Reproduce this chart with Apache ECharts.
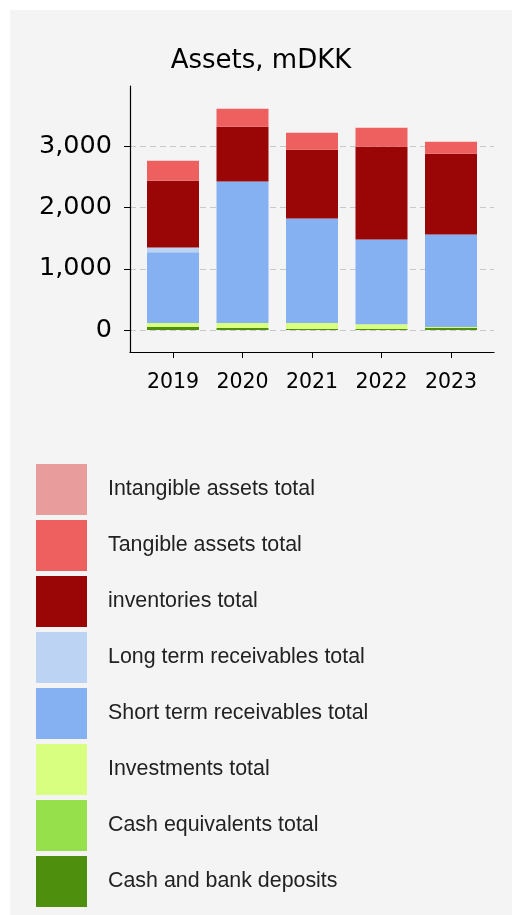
<!DOCTYPE html>
<html>
<head>
<meta charset="utf-8">
<script src="https://cdn.jsdelivr.net/npm/echarts@6/dist/echarts.min.js"></script>
<style>
    html, body { margin: 0; padding: 0; background: #ffffff; }
    #myChart { position: absolute; left: 10px; top: 10px; width: 502px; height: 905px; background: #f4f4f4; }
</style>
</head>
<body>
<div id="myChart"></div>
<script>
// 年份
var years = ['2019', '2020', '2021', '2022', '2023'];
// 各项资产 (mDKK)，从下往上堆叠
var cashBank = [49, 33, 16, 16, 33];
var cashEquivalents = [0, 0, 0, 0, 0];
var investments = [65, 81, 98, 81, 16];
var shortTermRec = [1155, 2310, 1708, 1383, 1513];
var longTermRec = [81, 0, 0, 0, 0];
var inventories = [1090, 895, 1123, 1513, 1318];
var tangible = [325, 293, 277, 309, 195];
var intangible = [0, 0, 0, 0, 0];
// Y轴刻度
var yTicks = [0, 1000, 2000, 3000];
var yMin = -358, yMax = 3985;

var seriesList = [
    {name: 'Cash and bank deposits', data: cashBank, color: '#4e900e'},
    {name: 'Cash equivalents total', data: cashEquivalents, color: '#96e04c'},
    {name: 'Investments total', data: investments, color: '#d8ff80'},
    {name: 'Short term receivables total', data: shortTermRec, color: '#85b0f2'},
    {name: 'Long term receivables total', data: longTermRec, color: '#bdd3f4'},
    {name: 'inventories total', data: inventories, color: '#9a0606'},
    {name: 'Tangible assets total', data: tangible, color: '#ee6060'},
    {name: 'Intangible assets total', data: intangible, color: '#e89c9c'}
];

var myChart = echarts.init(document.getElementById('myChart'));
myChart.setOption({
    animation: false,
    title: {
        text: 'Assets, mDKK',
        left: 'center',
        top: 33,
        textStyle: {fontFamily: 'DejaVu Sans', fontSize: 26, fontWeight: 'normal', color: '#000'}
    },
    // 图例：从上往下与堆叠顺序相反
    legend: {
        orient: 'vertical',
        left: 26,
        top: 454,
        padding: 0,
        itemWidth: 51,
        itemHeight: 51,
        itemGap: 5,
        icon: 'rect',
        data: seriesList.map(function (s) { return s.name; }).reverse(),
        textStyle: {fontFamily: 'Liberation Sans', fontSize: 21.4, color: '#222', padding: [0, 0, 0, 16]}
    },
    // grid 0: 坐标轴线和网格线; grid 1: 柱子
    grid: [
        {left: 120, top: 76, right: 18, bottom: 563},
        {left: 128.25, top: 76, right: 26.25, bottom: 563}
    ],
    xAxis: [
        {
            gridIndex: 0,
            type: 'value',
            min: 0,
            max: 1,
            axisLine: {onZero: false, lineStyle: {color: '#000', width: 1.2}},
            axisTick: {show: false},
            axisLabel: {show: false},
            splitLine: {show: false}
        },
        {
            gridIndex: 1,
            type: 'category',
            data: years,
            axisLine: {show: false, onZero: false},
            axisTick: {show: true, alignWithLabel: true, length: 6, lineStyle: {color: '#000'}},
            axisLabel: {margin: 20, fontFamily: 'DejaVu Sans', fontSize: 20.5, color: '#000'}
        }
    ],
    yAxis: [
        {
            gridIndex: 0,
            type: 'value',
            min: yMin,
            max: yMax,
            axisLine: {show: true, onZero: false, lineStyle: {color: '#000', width: 1.2}},
            axisTick: {show: true, customValues: yTicks, length: 6, lineStyle: {color: '#000'}},
            axisLabel: {
                customValues: yTicks,
                margin: 18,
                fontFamily: 'DejaVu Sans',
                fontSize: 25.5,
                color: '#000',
                formatter: function (v) { return v.toLocaleString('en-US'); }
            },
            splitLine: {show: true, lineStyle: {color: '#c8c8c8', type: [6, 4], width: 1}}
        },
        {
            gridIndex: 1,
            type: 'value',
            min: yMin,
            max: yMax,
            show: false
        }
    ],
    series: seriesList.map(function (s) {
        return {
            name: s.name,
            type: 'bar',
            xAxisIndex: 1,
            yAxisIndex: 1,
            stack: 'assets',
            barWidth: 52,
            itemStyle: {color: s.color},
            data: s.data
        };
    })
});
</script>
</body>
</html>
